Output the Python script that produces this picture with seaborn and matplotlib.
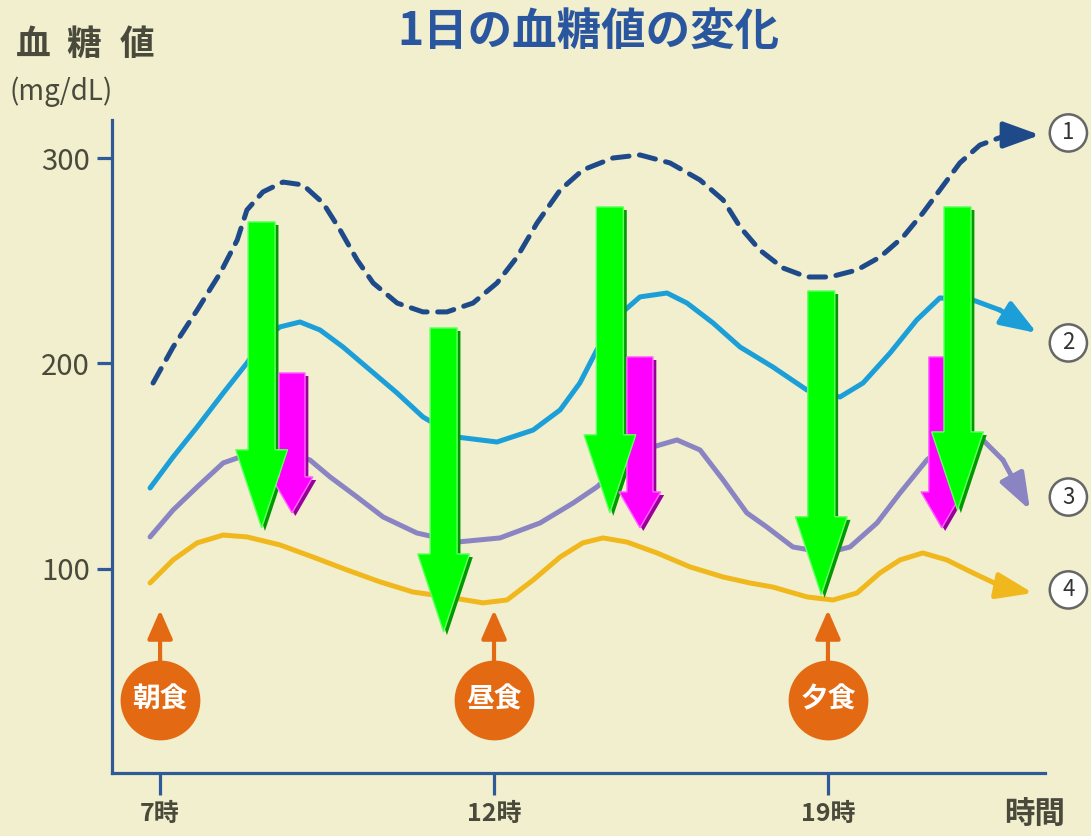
import matplotlib
matplotlib.use('Agg')
import matplotlib.pyplot as plt
import pandas as pd
import seaborn as sns

# x axis: 7時 = 0, 12時 = 10, 19時 = 20 (the three ticks are equally spaced)
tick_pos = [0, 10, 20]
tick_labels = ['7時', '12時', '19時']
y_ticks = [100, 200, 300]

# curve 1 (dashed, highest)
c1_x = [-0.21, 0.39, 1.11, 1.80, 2.31, 2.60, 3.08, 3.68, 4.28, 4.88, 5.39, 5.90, 6.38, 7.10,
        7.87, 8.59, 9.37, 10.09, 10.69, 11.29, 11.98, 12.66, 13.56, 14.37, 15.27, 16.17,
        16.86, 17.37, 17.96, 18.65, 19.37, 20.06, 20.87, 21.56, 22.25, 22.84, 23.35, 23.95,
        24.55, 25.36]
c1_y = [190.5, 208.0, 226.0, 244.0, 260.1, 274.7, 283.5, 288.3, 286.9, 278.1, 265.0, 250.4,
        239.2, 229.4, 225.1, 225.1, 229.4, 239.2, 251.8, 268.4, 284.4, 294.2, 300.0, 301.5,
        297.6, 289.3, 279.6, 266.4, 255.2, 246.5, 242.1, 242.1, 245.5, 251.8, 261.6, 273.2,
        284.4, 297.6, 306.3, 311.2]
# curve 2
c2_x = [-0.30, 0.39, 1.11, 1.89, 2.60, 3.08, 3.59, 4.19, 4.79, 5.48, 6.29, 7.10, 7.87, 8.89,
        10.09, 11.17, 11.98, 12.57, 13.08, 13.68, 14.37, 15.18, 15.78, 16.56, 17.37, 18.35,
        19.37, 20.36, 21.05, 21.86, 22.66, 23.35, 24.34, 25.15]
c2_y = [139.4, 154.5, 169.1, 185.6, 200.2, 211.4, 217.8, 220.2, 216.3, 208.0, 196.8, 185.6,
        174.0, 164.2, 161.8, 167.6, 177.4, 190.5, 206.6, 222.6, 232.4, 234.3, 229.4, 219.7,
        208.0, 198.3, 187.1, 183.7, 190.5, 205.1, 221.2, 231.9, 230.9, 226.0]
# curve 3
c3_x = [-0.30, 0.39, 1.11, 1.89, 2.40, 3.14, 3.89, 4.49, 5.09, 5.90, 6.68, 7.69, 8.89,
        10.18, 11.38, 12.37, 13.08, 13.92, 14.76, 15.48, 16.17, 16.86, 17.57, 18.17, 18.95,
        19.97, 20.66, 21.47, 22.16, 22.96, 23.80, 24.64, 25.24]
c3_y = [115.6, 128.7, 139.9, 151.6, 154.5, 157.9, 156.4, 153.0, 144.8, 135.0, 125.3, 117.5,
        113.1, 115.1, 122.4, 132.1, 139.9, 152.1, 159.4, 162.8, 157.9, 143.3, 127.3, 120.4,
        110.7, 107.8, 110.7, 122.4, 137.0, 153.0, 164.2, 162.8, 153.0]
# curve 4 (lowest)
c4_x = [-0.30, 0.39, 1.11, 1.89, 2.60, 3.59, 4.58, 5.60, 6.59, 7.57, 8.59, 9.67, 10.39,
        11.17, 11.98, 12.66, 13.26, 13.98, 14.88, 15.87, 16.86, 17.66, 18.35, 19.37, 20.15,
        20.87, 21.56, 22.16, 22.84, 23.56, 24.34, 25.24]
c4_y = [93.2, 104.4, 112.7, 116.5, 115.6, 111.7, 105.8, 99.5, 93.7, 88.8, 86.4, 83.5, 84.9,
        94.6, 105.8, 112.7, 115.1, 113.1, 107.8, 101.0, 96.1, 93.2, 91.2, 86.4, 84.9, 88.3,
        98.1, 104.4, 107.8, 104.4, 98.1, 91.2]

# where each curve's arrow head ends
tip_x = [26.35, 26.26, 26.05, 26.14]
tip_y = [311.2, 214.8, 128.7, 88.3]
curve_names = ['1', '2', '3', '4']
curve_colors = ['#1f4a8a', '#1c9fd8', '#8b84c2', '#f0b81c']
badge_y = [312.2, 210.0, 135.0, 89.8]

# meals
meal_x = [0, 10, 20]
meal_labels = ['朝食', '昼食', '夕食']

# overlay arrows (center x, top, tip)
green_x = [3.04, 8.49, 13.47, 19.8, 23.88]
green_top = [268.9, 217.3, 276.2, 235.3, 276.2]
green_tip = [120.0, 69.3, 127.3, 87.4, 128.7]
pink_x = [3.95, 14.37, 23.41]
pink_top = [195.4, 203.2, 203.2]
pink_tip = [127.3, 120.0, 120.0]

BG = '#f1efcd'
AXIS = '#2e5a98'
TEXT = '#4a4a3c'
ORANGE = '#e36a12'

sns.set_theme(style='white')
plt.rcParams['font.family'] = ['Noto Sans CJK JP', 'DejaVu Sans']

fig = plt.figure(figsize=(10.91, 8.36), dpi=100, facecolor=BG)
ax = fig.add_axes([112 / 1091, 63 / 836, 933 / 1091, 653 / 836], facecolor=BG)

curves = [(c1_x, c1_y), (c2_x, c2_y), (c3_x, c3_y), (c4_x, c4_y)]
for i, (xs, ys) in enumerate(curves):
    df = pd.DataFrame({'x': xs, 'y': ys})
    sns.lineplot(data=df, x='x', y='y', ax=ax, color=curve_colors[i], linewidth=3.6,
                 sort=False, estimator=None, solid_capstyle='round',
                 solid_joinstyle='round')
    if i == 0:
        ax.lines[-1].set_dashes([3.3, 2.1])
        ax.lines[-1].set_dash_capstyle('round')
    ax.annotate('', xy=(tip_x[i], tip_y[i]), xytext=(xs[-1], ys[-1]),
                arrowprops=dict(arrowstyle='-|>,head_length=1.1,head_width=0.4',
                                color=curve_colors[i], lw=3.6, mutation_scale=20,
                                shrinkA=0, shrinkB=0))
    ax.text(27.2, badge_y[i], curve_names[i], ha='center', va='center', fontsize=16,
            color='#333333', clip_on=False,
            bbox=dict(boxstyle='circle,pad=0.32', fc='white', ec='#666666', lw=1.8))

# meal markers
meals = pd.DataFrame({'x': meal_x, 'y': [36.3] * 3, 'meal': meal_labels})
sns.scatterplot(data=meals, x='x', y='y', ax=ax, s=3300, color=ORANGE, linewidth=0,
                zorder=3)
for mx, lab in zip(meal_x, meal_labels):
    ax.text(mx, 36.3, lab, ha='center', va='center', color='white', fontsize=20,
            fontweight='bold', zorder=4)
    ax.annotate('', xy=(mx, 80), xytext=(mx, 55),
                arrowprops=dict(arrowstyle='-|>,head_length=0.8,head_width=0.35',
                                color=ORANGE, lw=3, mutation_scale=22,
                                shrinkA=0, shrinkB=0))


# overlay arrows: magenta first, green on top
def block_arrow(x, top, tip, w, hw, hl, fc, shade, light):
    ax.arrow(x + 0.1, top - 1.5, 0, tip - top, width=w, head_width=hw, head_length=hl,
             length_includes_head=True, fc=shade, ec='none', zorder=5)
    ax.arrow(x, top, 0, tip - top, width=w, head_width=hw, head_length=hl,
             length_includes_head=True, fc=fc, ec=light, lw=1, zorder=6)


for x, t, b in zip(pink_x, pink_top, pink_tip):
    block_arrow(x, t, b, 0.78, 1.25, 17.5, '#ff00ff', '#990099', '#ff66ff')
for x, t, b in zip(green_x, green_top, green_tip):
    block_arrow(x, t, b, 0.81, 1.55, 38, '#00ff00', '#009900', '#66ff66')

ax.set_xlim(-1.44, 26.5)
ax.set_ylim(0.7, 318.5)
ax.set_xticks(tick_pos)
ax.set_xticklabels(tick_labels, fontweight='bold')
ax.set_yticks(y_ticks)
ax.set_xlabel('')
ax.set_ylabel('')
for side in ['top', 'right']:
    ax.spines[side].set_visible(False)
for side in ['left', 'bottom']:
    ax.spines[side].set_color(AXIS)
    ax.spines[side].set_linewidth(2.3)
ax.tick_params(axis='y', direction='out', length=11, width=2.3, color=AXIS,
               labelsize=21, labelcolor=TEXT, pad=5, left=True)
ax.tick_params(axis='x', direction='out', length=16, width=2.3, color=AXIS,
               labelsize=18, labelcolor=TEXT, pad=5, bottom=True)

fig.text(0.539, 0.962, '1日の血糖値の変化', ha='center', va='center', fontsize=32,
         fontweight='bold', color='#2a56a0')
for cx, ch in zip([33, 84, 137], '血糖値'):
    fig.text(cx / 1091, 1 - 44 / 836, ch, ha='center', va='center', fontsize=25,
             fontweight='bold', color=TEXT)
fig.text(10 / 1091, 1 - 92 / 836, '(mg/dL)', ha='left', va='center', fontsize=20,
         color=TEXT)
fig.text(1035 / 1091, 1 - 815 / 836, '時間', ha='center', va='center', fontsize=22,
         fontweight='bold', color=TEXT)

fig.savefig('out.png', dpi=100, facecolor=BG)
